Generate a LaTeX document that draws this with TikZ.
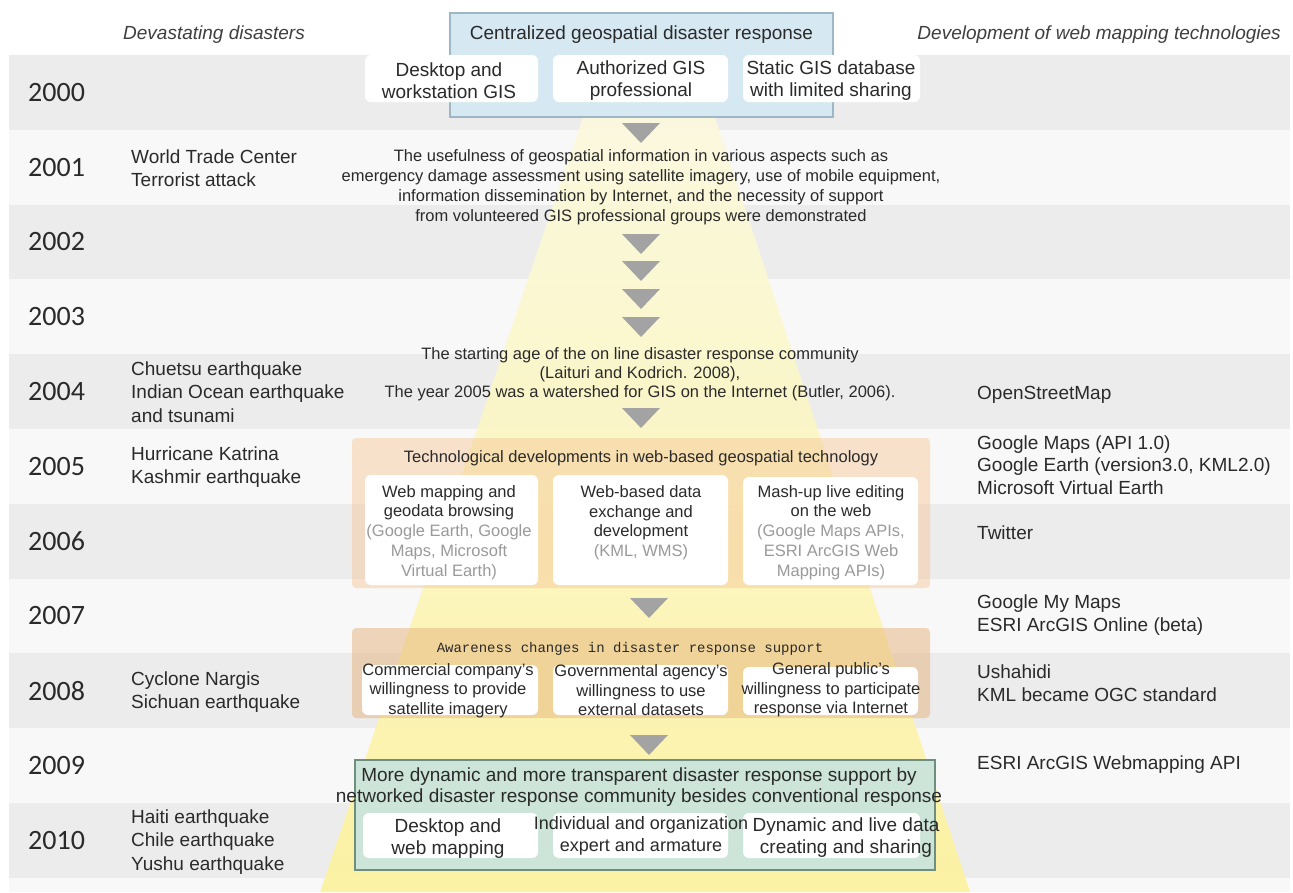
\documentclass[tikz,border=0pt]{standalone}
\usepackage{fontspec}
\setmainfont{Liberation Sans}
\newfontfamily\yearfamily{Carlito}
\newfontfamily\monofamily{Liberation Mono}
\definecolor{rowgray}{HTML}{ECECEC}
\definecolor{rowlight}{HTML}{F8F8F8}
\definecolor{ink}{HTML}{2A2A2A}
\definecolor{paren}{HTML}{9A9A9A}
\definecolor{yeltop}{HTML}{FCF9DE}
\definecolor{yelbot}{HTML}{FDF29E}
\definecolor{bluefill}{HTML}{D6E9F3}
\definecolor{blueline}{HTML}{9FB7C5}
\definecolor{techfill}{HTML}{F6C596}
\definecolor{awarefill}{HTML}{E6B47C}
\definecolor{greenfill}{HTML}{CCE5D8}
\definecolor{greenline}{HTML}{6E8E80}
\definecolor{trifill}{HTML}{A3A3A3}
\tikzset{
  year/.style={inner sep=0pt, text=ink, font=\yearfamily\fontsize{28}{30}\selectfont, anchor=west},
  head/.style={inner sep=0pt, text=ink!90, font=\itshape\fontsize{19}{22}\selectfont},
  side/.style={inner sep=0pt, text=ink, font=\fontsize{19}{23.5}\selectfont, align=left, anchor=west},
  note/.style={inner sep=0pt, text=ink, font=\fontsize{16.5}{20}\selectfont, align=center},
  big/.style={inner sep=0pt, text=ink, font=\fontsize{19}{22}\selectfont, align=center},
  wbox/.style={fill=white, rounded corners=6pt, inner sep=0pt, outer sep=0pt, draw=none},
  panel/.style={inner sep=0pt, outer sep=0pt},
  arrowhead/.style={fill=trifill},
}
\newcommand\downmark[1]{\fill[arrowhead] (#1) ++(-19,0) -- ++(38,0) -- ++(-19,20) -- cycle;}
\begin{document}
\begin{tikzpicture}[x=1pt,y=-1pt]
\useasboundingbox (0,0) rectangle (1293,892);
\fill[white] (0,0) rectangle (1293,892);

% alternating year bands
\foreach \i in {0,2,...,10}
  \fill[rowgray] (9,{55+74.8*\i}) rectangle (1290,{55+74.8*(\i+1)});
\foreach \i in {1,3,...,9}
  \fill[rowlight] (9,{55+74.8*\i}) rectangle (1290,{55+74.8*(\i+1)});
\fill[rowlight] (9,{55+74.8*11}) rectangle (1290,892);

% widening band of the response community
\shade[top color=yeltop, bottom color=yelbot, opacity=0.92]
  (583,117) -- (715,117) -- (970,892) -- (320,892) -- cycle;

% year labels
\foreach \y [count=\i from 0] in {2000,...,2010}
  \node[year] (y\y) at (28,{55+74.8*\i+37.4}) {\y};

% column headings
\node[head, anchor=west] (hleft) at (123,35) {Devastating disasters};
\node[head, anchor=east] (hright) at (1281,35) {Development of web mapping technologies};

% disasters
\node[side] (d2001) at (131,168) {World Trade Center\\Terrorist attack};
\node[side] (d2004) at (131,392) {Chuetsu earthquake\\Indian Ocean earthquake\\and tsunami};
\node[side] (d2005) at (131,467) {Hurricane Katrina\\Kashmir earthquake};
\node[side] (d2008) at (131,692) {Cyclone Nargis\\Sichuan earthquake};
\node[side] (d2010) at (131,842) {Haiti earthquake\\Chile earthquake\\Yushu earthquake};

% web mapping milestones
\node[side] (w2004) at (977,395) {OpenStreetMap};
\node[side, font=\fontsize{19}{22.5}\selectfont] (w2005) at (977,465) {Google Maps (API 1.0)\\Google Earth (version3.0, KML2.0)\\Microsoft Virtual Earth};
\node[side] (w2006) at (977,533) {Twitter};
\node[side] (w2007) at (977,615) {Google My Maps\\ESRI ArcGIS Online (beta)};
\node[side] (w2008) at (977,683) {Ushahidi\\KML became OGC standard};
\node[side] (w2009) at (977,765) {ESRI ArcGIS Webmapping API};

% 2000: centralized response
\node[panel, fill=bluefill, draw=blueline, line width=1.2pt, minimum width=383, minimum height=104] (central) at (641.5,65) {};
\node[big] (centralT) at (641.5,35) {Centralized geospatial disaster response};
\node[wbox, minimum width=173, minimum height=47] (c1) at (451.5,78.5) {};
\node[wbox, minimum width=175, minimum height=47] (c2) at (640.5,78.5) {};
\node[wbox, minimum width=177, minimum height=47] (c3) at (831.5,78.5) {};
\node[big] at (449,81) {Desktop and\\workstation GIS};
\node[big] at (641,81) {Authorized GIS\\professional};
\node[big] at (831,81) {Static GIS database\\with limited sharing};

% 2001 lessons
\node[note] (n2001) at (641,187) {The usefulness of geospatial information in various aspects such as\\emergency damage assessment using satellite imagery, use of mobile equipment,\\information dissemination by Internet, and the necessity of support\\from volunteered GIS professional groups were demonstrated};

% 2004 community
\node[note, font=\fontsize{16.5}{19}\selectfont] (n2004) at (640,374) {The starting age of the on line disaster response community\\(Laituri and Kodrich. 2008),\\The year 2005 was a watershed for GIS on the Internet (Butler, 2006).};

% 2005-2006 technological developments
\node[panel, fill=techfill, fill opacity=0.45, rounded corners=4pt, minimum width=578, minimum height=150] (tech) at (641,513) {};
\node[note] (techT) at (641,458) {Technological developments in web-based geospatial technology};
\node[wbox, minimum width=173, minimum height=110] (t1) at (451.5,530) {};
\node[wbox, minimum width=175, minimum height=110] (t2) at (640.5,530) {};
\node[wbox, minimum width=175, minimum height=108] (t3) at (830.5,531) {};
\node[note, font=\fontsize{16.5}{19.8}\selectfont] at (449,532.5) {Web mapping and\\geodata browsing\\\textcolor{paren}{(Google Earth, Google}\\\textcolor{paren}{Maps, Microsoft}\\\textcolor{paren}{Virtual Earth)}};
\node[note, font=\fontsize{16.5}{19.8}\selectfont] at (641,522.7) {Web-based data\\exchange and\\development\\\textcolor{paren}{(KML, WMS)}};
\node[note, font=\fontsize{16.5}{19.8}\selectfont] at (831,532.5) {Mash-up live editing\\on the web\\\textcolor{paren}{(Google Maps APIs,}\\\textcolor{paren}{ESRI ArcGIS Web}\\\textcolor{paren}{Mapping APIs)}};

% 2007-2008 awareness changes
\node[panel, fill=awarefill, fill opacity=0.5, rounded corners=4pt, minimum width=578, minimum height=90] (aware) at (641,673) {};
\node[inner sep=0pt, text=ink, font=\monofamily\fontsize{14}{16}\selectfont] (awareT) at (630,649) {Awareness changes in disaster response support};
\node[wbox, minimum width=176, minimum height=50] (a1) at (450,690) {};
\node[wbox, minimum width=175, minimum height=50] (a2) at (640.5,690) {};
\node[wbox, minimum width=175, minimum height=48] (a3) at (830.5,691) {};
\node[note, font=\fontsize{16.5}{19.5}\selectfont] at (448,690.5) {Commercial company's\\willingness to provide\\satellite imagery};
\node[note, font=\fontsize{16.5}{19.5}\selectfont] at (641,690.5) {Governmental agency's\\willingness to use\\external datasets};
\node[note, font=\fontsize{16.5}{19.5}\selectfont] at (831,690) {General public's\\willingness to participate\\response via Internet};

% 2009-2010 networked response
\node[panel, fill=greenfill, draw=greenline, line width=1.2pt, minimum width=580, minimum height=110] (network) at (645,815) {};
\node[big, font=\fontsize{19}{21}\selectfont] (networkT) at (639,787.5) {More dynamic and more transparent disaster response support by\\networked disaster response community besides conventional response};
\node[wbox, minimum width=175, minimum height=45] (g1) at (450.5,835.5) {};
\node[wbox, minimum width=175, minimum height=45] (g2) at (640.5,835.5) {};
\node[wbox, minimum width=177, minimum height=45] (g3) at (831.5,835.5) {};
\node[big] at (448,839) {Desktop and\\web mapping};
\node[big, font=\fontsize{18}{22}\selectfont] at (641,836) {Individual and organization\\expert and armature};
\node[big] at (846,837.5) {Dynamic and live data\\creating and sharing};

% progression markers
\coordinate (m1) at (641,123);
\coordinate (m2) at (641,234);
\coordinate (m3) at (641,261);
\coordinate (m4) at (641,289);
\coordinate (m5) at (641,317);
\coordinate (m6) at (641,408);
\coordinate (m7) at (649,598);
\coordinate (m8) at (649,735);
\foreach \m in {m1,m2,m3,m4,m5,m6,m7,m8} {\downmark{\m}}
\end{tikzpicture}
\end{document}
